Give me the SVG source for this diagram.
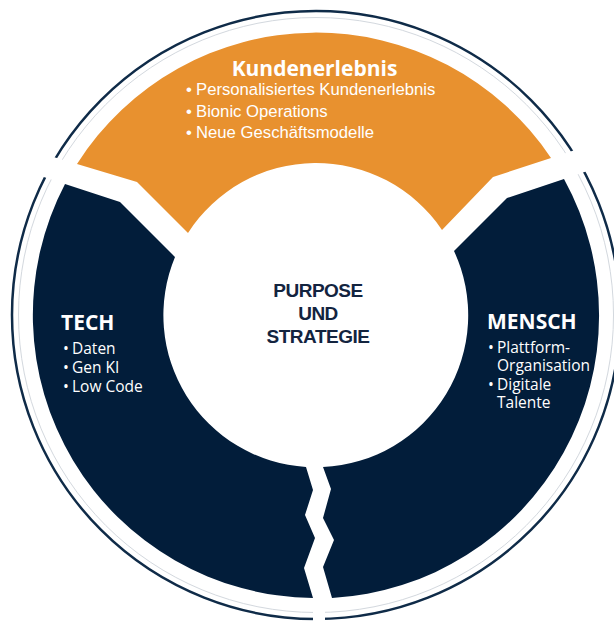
<svg xmlns="http://www.w3.org/2000/svg" width="614" height="631" viewBox="0 0 614 631">
  <style>
    .navy { fill: #021D3A; }
    .orange { fill: #E8912F; }
    .gap { fill: #FFFFFF; }
    .head { font-family: "Open Sans", "DejaVu Sans", sans-serif; font-weight: 700; font-size: 21px; fill: #FFFFFF; }
    .item { font-family: "Open Sans", "DejaVu Sans", sans-serif; font-size: 15.5px; fill: #FFFFFF; }
    .item-arial { font-family: "Liberation Sans", Arial, sans-serif; font-size: 16.7px; fill: #FFFFFF; }
    .core { font-family: "Liberation Sans", Arial, sans-serif; font-weight: 700; font-size: 19px; fill: #13243F; letter-spacing: -0.5px; }
  </style>

  <rect width="614" height="631" fill="#FFFFFF"/>

  <!-- outer frame ring -->
  <g id="frame">
    <circle cx="316" cy="315" r="304" fill="none" stroke="#0F2B48" stroke-width="2.5"/>
    <circle cx="316" cy="315" r="297.5" fill="none" stroke="#D3D8DE" stroke-width="1"/>
  </g>

  <!-- top segment -->
  <g id="kundenerlebnis">
    <path class="orange" d="M 77,164 A 283 283 0 0 1 551,158 L 493,177 L 442,230 A 152 152 0 0 0 188,233 L 137,182 Z"/>
    <text class="head" x="314.5" y="76" text-anchor="middle">Kundenerlebnis</text>
    <text class="item-arial">
      <tspan x="186" y="95">•</tspan><tspan x="196" y="95">Personalisiertes Kundenerlebnis</tspan>
      <tspan x="186" y="117">•</tspan><tspan x="196" y="117">Bionic Operations</tspan>
      <tspan x="186" y="138">•</tspan><tspan x="196" y="138">Neue Geschäftsmodelle</tspan>
    </text>
  </g>

  <!-- left segment -->
  <g id="tech">
    <path class="navy" d="M 65,184 L 120,202 L 175,257 A 152 152 0 0 0 306,467 L 313,490 L 305,515 L 315,538 L 304,568 L 313,598 A 283 283 0 0 1 65,184 Z"/>
    <text class="head" x="61" y="330">TECH</text>
    <text class="item">
      <tspan x="63" y="354">•</tspan><tspan x="72" y="354">Daten</tspan>
      <tspan x="63" y="373">•</tspan><tspan x="72" y="373">Gen KI</tspan>
      <tspan x="63" y="392">•</tspan><tspan x="72" y="392">Low Code</tspan>
    </text>
  </g>

  <!-- right segment -->
  <g id="mensch">
    <path class="navy" d="M 564,179 L 507,198 L 454,251 A 152 152 0 0 1 323,467 L 331,489 L 323,518 L 334,540 L 323,567 L 332,598 A 283 283 0 0 0 564,179 Z"/>
    <text class="head" x="487" y="329">MENSCH</text>
    <text class="item">
      <tspan x="488" y="353">•</tspan><tspan x="497" y="353">Plattform-</tspan>
      <tspan x="497" y="371">Organisation</tspan>
      <tspan x="488" y="390">•</tspan><tspan x="497" y="390">Digitale</tspan>
      <tspan x="497" y="408">Talente</tspan>
    </text>
  </g>

  <!-- breaks through the frame ring -->
  <g id="ring-breaks">
    <polygon class="gap" points="77,164 30,150 30,172.5 65,184"/>
    <polygon class="gap" points="551,158 605,140 605,165 564,179"/>
    <rect class="gap" x="313" y="595" width="12" height="36"/>
  </g>

  <!-- centre -->
  <g id="purpose">
    <text class="core" x="318" y="297" text-anchor="middle">PURPOSE</text>
    <text class="core" x="318" y="320" text-anchor="middle">UND</text>
    <text class="core" x="318" y="343" text-anchor="middle">STRATEGIE</text>
  </g>
</svg>
